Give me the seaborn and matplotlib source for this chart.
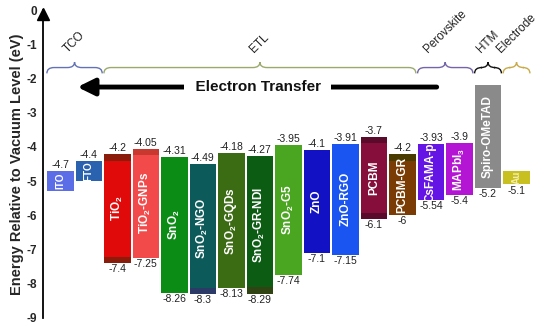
import numpy as np
import pandas as pd
import matplotlib
matplotlib.use('Agg')
import matplotlib.pyplot as plt
from matplotlib.path import Path
from matplotlib.patches import PathPatch
import seaborn as sns

# ---------------- data ----------------
materials = ['ITO', 'FTO', 'TiO2', 'TiO2-GNPs', 'SnO2', 'SnO2-NGO', 'SnO2-GQDs',
             'SnO2-GR-NDI', 'SnO2-G5', 'ZnO', 'ZnO-RGO', 'PCBM', 'PCBM-GR',
             'CsFAMA-p', 'MAPbI3', 'Spiro-OMeTAD', 'Au']
bar_labels = ['ITO', 'FTO', r'TiO$_\mathbf{2}$', r'TiO$_\mathbf{2}$-GNPs', r'SnO$_\mathbf{2}$',
              r'SnO$_\mathbf{2}$-NGO', r'SnO$_\mathbf{2}$-GQDs', r'SnO$_\mathbf{2}$-GR-NDI',
              r'SnO$_\mathbf{2}$-G5', 'ZnO', 'ZnO-RGO', 'PCBM', 'PCBM-GR',
              'CsFAMA-p', r'MAPbI$_\mathbf{3}$', 'Spiro-OMeTAD', 'Au']
upper_level = [-4.7, -4.4, -4.2, -4.05, -4.31, -4.49, -4.18, -4.27, -3.95, -4.1,
               -3.91, -3.7, -4.2, -3.93, -3.9, -2.2, -4.7]
lower_level = [-5.3, -5.0, -7.4, -7.25, -8.26, -8.3, -8.13, -8.29, -7.74, -7.1,
               -7.15, -6.1, -6.0, -5.54, -5.4, -5.2, -5.1]
show_upper = [1, 1, 1, 1, 1, 1, 1, 1, 1, 1, 1, 1, 1, 1, 1, 0, 0]
show_lower = [0, 0, 1, 1, 1, 1, 1, 1, 1, 1, 1, 1, 1, 1, 1, 1, 1]

bar_colors = ['#5b6ee8', '#2a62b0', '#e00a0a', '#f24a4a', '#0b8c14', '#0c5a5a',
              '#3b6b12', '#0c5c14', '#4aa520', '#1212c4', '#1a55f2', '#850f3a',
              '#7a3c04', '#6514e6', '#b414d4', '#8a8a8a', '#c8c020']

groups = ['TCO', 'ETL', 'Perovskite', 'HTM', 'Electrode']
group_first = [0, 2, 13, 15, 16]
group_last = [1, 12, 14, 15, 16]
group_colors = ['#6272b4', '#9aaa6c', '#7464a8', '#111111', '#c8aa48']

df = pd.DataFrame({'material': materials,
                   'gap': np.array(upper_level) - np.array(lower_level),
                   'bottom': lower_level})

# ---------------- style ----------------
sns.set_theme(style='white')
plt.rcParams['font.family'] = ['Liberation Sans', 'DejaVu Sans']
plt.rcParams['mathtext.fontset'] = 'custom'
plt.rcParams['mathtext.rm'] = 'Liberation Sans'
plt.rcParams['mathtext.bf'] = 'Liberation Sans:bold'

fig = plt.figure(figsize=(5.5, 3.26), dpi=100)
ax = fig.add_axes([0.078, 0.025, 0.913, 0.944])

sns.barplot(data=df, x='material', y='gap', bottom=df['bottom'].values,
            color='#888888', width=0.93, ax=ax, linewidth=0, errorbar=None)
for patch, c in zip(ax.patches, bar_colors):
    patch.set_facecolor(c)

# darker edge bands seen on a few bars
bands = {2: ('#8a1c0c', True, True), 3: ('#c8382e', True, False),
         11: ('#5a0a2a', True, True), 12: ('#4a3c00', True, False),
         5: ('#2c3a68', False, True), 7: ('#2f4412', False, True)}
for i, (c, top, bot) in bands.items():
    if top:
        ax.bar(i, 0.2, bottom=upper_level[i] - 0.2, width=0.93, color=c, linewidth=0)
    if bot:
        ax.bar(i, 0.18, bottom=lower_level[i], width=0.93, color=c, linewidth=0)

for i in range(len(materials)):
    gap = upper_level[i] - lower_level[i]
    small = gap < 1
    ax.text(i, (upper_level[i] + lower_level[i]) / 2, bar_labels[i], rotation=90,
            ha='center', va='center', color='#f4eeaa' if materials[i] == 'Au' else 'white',
            fontsize=7.2 if small else 8.5, fontweight='bold')
    if show_upper[i]:
        ax.text(i, upper_level[i] + 0.03, f'{upper_level[i]:g}', ha='center',
                va='bottom', fontsize=7.5, color='#222222')
    if show_lower[i]:
        ax.text(i, lower_level[i] - 0.03, f'{lower_level[i]:g}', ha='center',
                va='top', fontsize=7.5, color='#222222')

# curly brackets above the layers
y0, r = -1.68, 0.25
for name, a, b, c in zip(groups, group_first, group_last, group_colors):
    x0, x1 = a - 0.47, b + 0.47
    xm = (x0 + x1) / 2
    verts = [(x0, y0 - 0.17), (x0, y0), (x0 + r, y0), (xm - r, y0), (xm, y0),
             (xm, y0 + 0.16), (xm, y0), (xm + r, y0), (x1 - r, y0), (x1, y0),
             (x1, y0 - 0.17)]
    codes = [Path.MOVETO, Path.CURVE3, Path.CURVE3, Path.LINETO, Path.CURVE3,
             Path.CURVE3, Path.CURVE3, Path.CURVE3, Path.LINETO, Path.CURVE3,
             Path.CURVE3]
    ax.add_patch(PathPatch(Path(verts, codes), fill=False, edgecolor=c, lw=1.0,
                           clip_on=False))
    ax.text(xm, -1.33, name, rotation=45, ha='center', va='bottom', fontsize=8.5,
            color='#222222')

# electron transfer arrow
ax.annotate('', xy=(0.6, -2.25), xytext=(13.2, -2.25),
            arrowprops=dict(arrowstyle='-|>,head_length=0.85,head_width=0.42',
                            lw=3.5, color='black', shrinkA=0, shrinkB=0))
ax.text(6.93, -2.25, '  Electron Transfer  ', ha='center', va='center', fontsize=11,
        fontweight='bold', color='#111111',
        bbox=dict(boxstyle='square,pad=0.15', fc='white', ec='none'))

# axes
ax.set_xlim(-0.61, 17.0)
ax.set_ylim(-9, 0)
ax.set_xticks([])
ax.set_xlabel('')
ax.set_yticks(np.arange(-9, 1, 1))
ax.set_yticklabels([f'{v}' for v in range(-9, 1)], fontsize=8.5, fontweight='bold')
ax.tick_params(axis='y', direction='out', length=3, width=1, color='black', pad=1)
ax.set_ylabel('Energy Relative to Vacuum Level (eV)', fontsize=10.5, fontweight='bold',
              labelpad=2)
sns.despine(ax=ax, bottom=True)
ax.spines['left'].set_color('black')
ax.spines['left'].set_linewidth(1.3)
ax.plot(0, -0.12, marker='^', ms=8, color='black', transform=ax.get_yaxis_transform(),
        clip_on=False)

fig.savefig('out.png', dpi=100)
